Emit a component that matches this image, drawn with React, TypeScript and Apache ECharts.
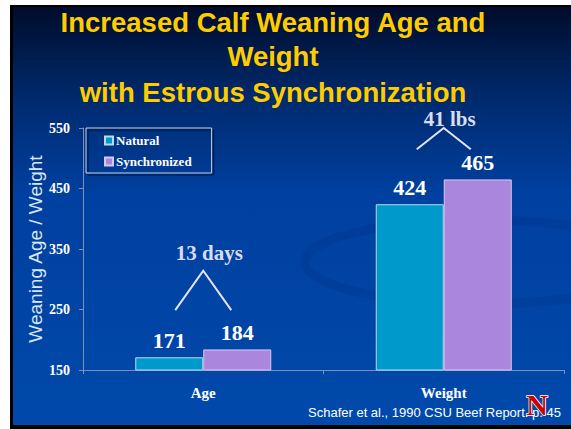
import React, { useEffect, useRef } from "react";
import * as echarts from "echarts";

const categories = ["Age", "Weight"];
const naturalValues = [171, 424];
const synchronizedValues = [184, 465];
const yTicks = { min: 150, max: 550, interval: 100 };
const annotations = [
  { category: "Age", text: "13 days", textValue: 343, apexValue: 314, footValue: 249, spread: 28 },
  { category: "Weight", text: "41 lbs", textValue: 565, apexValue: 550, footValue: 515, spread: 27 },
];
const titleLines = ["Increased Calf Weaning Age and", "Weight", "with Estrous Synchronization"];
const citation = "Schafer et al., 1990 CSU Beef Report. p. 45";

const SERIF = "'Liberation Serif', 'Times New Roman', serif";
const SANS = "'Liberation Sans', Arial, sans-serif";

export default function App() {
  const ref = useRef<HTMLDivElement>(null);
  useEffect(() => {
    if (!ref.current) return;
    const chart = echarts.init(ref.current, null, { renderer: "svg" });
    const labelStyle = {
      show: true,
      position: "top",
      distance: 6,
      color: "#ffffff",
      fontFamily: SERIF,
      fontWeight: "bold",
      fontSize: 22,
    };
    const bgGraphics: any[] = [
      { type: "rect", z: -10, shape: { x: 10, y: 5, width: 561, height: 424 }, style: { fill: "#000000" } },
      {
        type: "rect",
        z: -9,
        shape: { x: 13, y: 7, width: 558, height: 418 },
        style: {
          fill: new echarts.graphic.LinearGradient(0, 0, 0, 1, [
            { offset: 0, color: "#000c2a" },
            { offset: 0.22, color: "#002a6e" },
            { offset: 0.45, color: "#0040a0" },
            { offset: 1, color: "#0049aa" },
          ]),
        },
      },
      {
        type: "ellipse",
        z: -8,
        shape: { cx: 480, cy: 262, rx: 175, ry: 42 },
        style: { fill: "none", stroke: "rgba(0,30,110,0.16)", lineWidth: 9 },
      },
    ];
    titleLines.forEach((t, i) => {
      bgGraphics.push({
        type: "text",
        x: 273,
        y: [22, 56, 92][i],
        style: {
          text: t,
          fill: "#ffcc00",
          font: `bold 27.5px ${SANS}`,
          align: "center",
          verticalAlign: "middle",
        },
      });
    });
    bgGraphics.push({
      type: "text",
      x: 308,
      y: 412,
      z: 5,
      style: { text: citation, fill: "#ffffff", font: `13px ${SANS}`, verticalAlign: "middle" },
    });
    bgGraphics.push({
      type: "text",
      x: 537,
      y: 404,
      z: 6,
      style: {
        text: "N",
        fill: "#cc0000",
        stroke: "#ffffff",
        lineWidth: 1.5,
        font: `bold 30px ${SERIF}`,
        align: "center",
        verticalAlign: "middle",
      },
    });

    chart.setOption({
      animation: false,
      backgroundColor: "#ffffff",
      grid: { left: 83, right: 7, top: 128, bottom: 59 },
      legend: {
        orient: "vertical",
        left: 86,
        top: 128,
        itemWidth: 8,
        itemHeight: 8,
        itemGap: 8,
        icon: "rect",
        padding: [6, 20, 5, 18],
        borderColor: "#c8d0e4",
        borderWidth: 1,
        shadowColor: "rgba(0,0,0,0.6)",
        shadowOffsetX: 2,
        shadowOffsetY: 2,
        textStyle: { color: "#ffffff", fontFamily: SERIF, fontWeight: "bold", fontSize: 13, padding: [0, 0, 0, -2] },
        data: ["Natural", "Synchronized"],
      },
      xAxis: {
        type: "category",
        data: categories,
        axisLine: { lineStyle: { color: "#7f8fb8", width: 1 } },
        axisTick: { show: true, length: 4, lineStyle: { color: "#7f8fb8" } },
        axisLabel: { color: "#ffffff", fontFamily: SERIF, fontWeight: "bold", fontSize: 15, margin: 15 },
      },
      yAxis: {
        type: "value",
        min: yTicks.min,
        max: yTicks.max,
        interval: yTicks.interval,
        name: "Weaning Age / Weight",
        nameLocation: "middle",
        nameRotate: 90,
        nameGap: 38,
        nameMoveOverlap: false,
        nameTextStyle: { color: "#dce6f8", fontFamily: SANS, fontSize: 19 },
        splitLine: { show: false },
        axisLine: { show: true, lineStyle: { color: "#7f8fb8", width: 1 } },
        axisTick: { show: true, length: 4, lineStyle: { color: "#7f8fb8" } },
        axisLabel: { color: "#ffffff", fontFamily: SERIF, fontWeight: "bold", fontSize: 14, margin: 13 },
      },
      series: [
        {
          name: "Natural",
          type: "bar",
          data: naturalValues,
          barWidth: 68,
          barGap: "0%",
          itemStyle: { color: "#0099cc", borderColor: "#b8dcec", borderWidth: 1 },
          label: labelStyle,
        },
        {
          name: "Synchronized",
          type: "bar",
          data: synchronizedValues,
          barWidth: 68,
          barGap: "0%",
          itemStyle: { color: "#aa86dc", borderColor: "#d8c8f0", borderWidth: 1 },
          label: labelStyle,
        },
      ],
      graphic: bgGraphics,
    });

    const annGraphics: any[] = [];
    annotations.forEach((a) => {
      const cx = chart.convertToPixel({ xAxisIndex: 0 }, a.category) as number;
      const yApex = chart.convertToPixel({ yAxisIndex: 0 }, a.apexValue) as number;
      const yFoot = chart.convertToPixel({ yAxisIndex: 0 }, a.footValue) as number;
      const yText = chart.convertToPixel({ yAxisIndex: 0 }, a.textValue) as number;
      annGraphics.push({
        type: "polyline",
        z: 10,
        shape: { points: [[cx - a.spread, yFoot], [cx, yApex], [cx + a.spread, yFoot]] },
        style: { stroke: "#e4e4f4", lineWidth: 2, fill: "none" },
      });
      annGraphics.push({
        type: "text",
        z: 10,
        x: cx + 6,
        y: yText,
        style: {
          text: a.text,
          fill: "#dcdcf0",
          font: `bold 21px ${SERIF}`,
          align: "center",
          verticalAlign: "middle",
        },
      });
    });
    chart.setOption({ graphic: [...bgGraphics, ...annGraphics] });

    return () => chart.dispose();
  }, []);
  return (
    <div
      ref={ref}
      style={{ position: "absolute", left: 0, top: 0, width: 571, height: 429 }}
    />
  );
}
